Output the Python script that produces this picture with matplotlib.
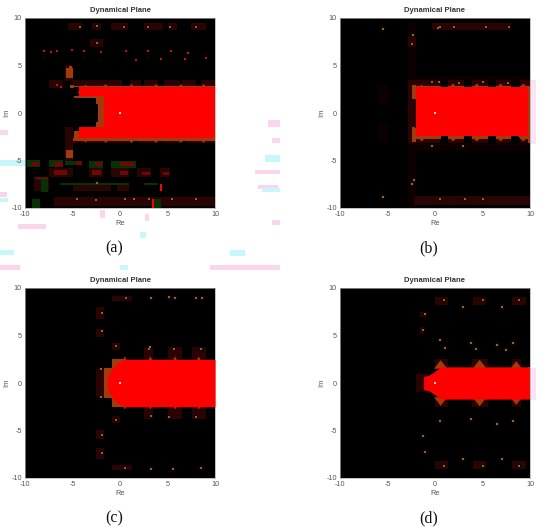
import matplotlib
matplotlib.use("Agg")
import matplotlib.pyplot as plt
from matplotlib.patches import Rectangle

plt.rcParams['font.family'] = ['Liberation Sans', 'DejaVu Sans']

RED = '#ff0000'
DARK = '#2a0402'
HALO = '#1c0302'
FAINT = '#0c0100'
BROWN = '#a33a0c'
GREEN = '#063206'
TAN = '#8a6a2c'

TICKS = [-10, -5, 0, 5, 10]
TICK_LABELS = ['-10', '-5', '0', '5', '10']
LETTERS = ['(a)', '(b)', '(c)', '(d)']

# regions are (re0, re1, im0, im1)
red_a = [(-4.3, 10, 1.75, 2.7), (-4.3, 10, -2.6, -1.5), (-1.7, 10, -1.6, 1.8)]
brown_a = [(-4.9, 10, 2.7, 2.85), (-4.9, 10, -2.95, -2.6), (-4.8, -1.7, 1.55, 1.8), (-2.3, -1.7, -1.5, 1.7), (-2.5, -1.7, 0.9, 1.7), (-2.5, -1.7, -1.5, -0.9),
           (-5.7, -5.0, 3.7, 4.7), (-5.4, -5.0, 4.7, 5.0), (-5.7, -4.9, -4.7, -3.9), (-5.3, -4.8, 2.6, 2.95), (-4.8, -4.3, -2.6, -1.9), (9.85, 10, -2.8, 2.7)]
dark_a = [(-5.0, 0.2, 2.85, 3.5), (1.0, 2.2, 2.85, 3.5), (2.5, 4.0, 2.85, 3.5), (4.6, 6.2, 2.85, 3.5), (6.5, 8.0, 2.85, 3.5), (8.5, 10, 2.85, 3.5),
          (-5.0, -1.0, -3.2, -2.7), (-1.0, 1.5, -3.2, -2.7), (2.0, 4.0, -3.2, -2.7), (4.5, 6.4, -3.2, -2.7), (7.0, 10, -3.2, -2.7),
          (-5.8, -5.0, 3.4, 5.1), (-5.8, -5.0, -5.0, -3.4), (-5.8, -5.0, -3.4, -1.5), (-3.2, -1.8, 6.9, 7.8), (-5.5, -4.0, 8.7, 9.5), (-3.0, -2.0, 8.7, 9.5),
          (-1.0, 0.8, 8.7, 9.5), (2.5, 4.5, 8.7, 9.5), (5.0, 6.0, 8.7, 9.5), (7.5, 9.0, 8.7, 9.5), (-7.5, -6.0, 2.6, 3.5),
          (-7.5, -5.0, -6.7, -5.8), (-3.3, -1.8, -6.7, -5.8), (-0.9, 0.9, -6.7, -5.8), (1.75, 3.3, -6.7, -5.8), (4.2, 5.3, -6.7, -5.8),
          (-9.1, -7.5, -8.2, -6.7), (-5.0, -1.0, -8.2, -7.5), (-0.3, 0.9, -8.2, -7.5), (-7.0, 10, -9.8, -8.8)]
green_a = [(-9.8, -8.4, -5.7, -5.0), (-7.5, -6.0, -5.7, -5.0), (-5.8, -4.0, -5.5, -5.0), (-3.3, -1.8, -5.8, -5.0), (-0.9, 1.7, -5.8, -5.0),
           (-8.6, -7.6, -7.1, -6.7), (-8.3, -7.6, -8.3, -7.1), (-6.3, 0.9, -7.55, -7.4), (2.5, 4.0, -7.55, -7.4), (3.6, 4.3, -10, -9.1), (-9.3, -8.4, -10, -9.1)]
blob_a = [(-9.3, -8.5, -5.6, -5.2), (-7.0, -6.0, -5.7, -5.2), (-4.6, -4.0, -5.5, -5.1), (-2.6, -1.9, -5.6, -5.2), (0.0, 1.5, -5.6, -5.2), (-7.0, -5.6, -6.5, -6.0),
          (-2.9, -2.0, -6.5, -6.0), (0.0, 0.8, -6.5, -6.1), (2.3, 3.2, -6.5, -6.2), (4.5, 5.2, -6.5, -6.2), (-9.0, -7.6, -6.9, -6.7)]
bar_a = [(4.2, 4.45, -8.2, -7.45), (3.4, 3.6, -10, -9.1)]
spec_re_a = [-4.2, -2.4, 0.4, 2.9, 5.3, 8.0, -2.4, 0.5, 3.0, 5.5, 8.0, -2.5, -4.5, 1.5, -2.4]
spec_im_a = [9.1, 9.2, 9.1, 9.1, 9.1, 9.1, 7.4, -9.1, -9.1, -9.1, -9.1, -9.2, -9.1, -9.1, -7.4]
spot_re_a = [-8.0, -7.3, -6.6, -5.1, -3.8, -2.0, 0.6, 2.9, 5.4, 7.2, 1.7, 4.3, 6.8, 9.1, -6.6, -6.2]
spot_im_a = [6.5, 6.4, 6.5, 6.6, 6.5, 6.4, 6.5, 6.5, 6.5, 6.3, 5.6, 5.7, 5.7, 5.8, 3.0, 2.7]
tooth_re_a = [-3.6, -1.5, 1.2, 3.8, 6.4, 8.8]
tooth_tip_a = [3.0, 3.05, 3.05, 3.05, 3.05, 3.05]
tooth_low_a = [-3.1, -3.15, -3.15, -3.15, -3.15, -3.15]

red_b = [(-2.0, 9.8, -2.45, 2.7)]
brown_b = [(-2.4, -2.0, -3.0, -1.5), (-2.4, -2.0, 1.5, 3.0), (-2.0, 10, 2.7, 2.85), (-2.0, 10, -2.7, -2.45), (9.8, 10, -3.2, 2.7)]
dark_b = [(-2.8, 0.5, 2.7, 3.5), (1.4, 3.0, 2.7, 3.5), (3.9, 5.6, 2.7, 3.5), (6.4, 8.0, 2.7, 3.5), (8.9, 10, 2.7, 3.5),
          (-2.8, 0.5, -3.2, -2.45), (1.4, 3.0, -3.2, -2.45), (3.9, 5.6, -3.2, -2.45), (6.4, 8.0, -3.2, -2.45), (8.9, 10, -3.2, -2.45),
          (-2.8, -2.0, -3.2, 3.5), (-2.8, -2.0, 7.0, 8.0), (-0.3, 8.0, 8.7, 9.5), (-2.2, 10, -9.7, -8.7)]
faint_b = [(-2.8, -2.0, 3.5, 9.5), (-2.8, -2.0, -10, -3.2), (-2.0, 10, -4.0, -3.2), (-2.0, 10, 3.5, 3.9), (-6.0, -5.0, 1.0, 3.0), (-6.0, -5.0, -3.0, -1.0)]
black_b = [(-2.0, -1.7, -0.6, 1.0), (-2.1, -1.4, -1.6, -0.8), (-2.1, -1.5, 0.8, 1.4), (0.6, 1.4, 2.7, 3.5), (3.0, 3.9, 2.5, 3.5), (5.6, 6.4, 2.5, 3.5), (8.0, 8.9, 2.5, 3.5),
           (0.6, 1.4, -3.2, -2.3), (3.0, 3.9, -3.2, -2.3), (5.6, 6.4, -3.2, -2.3), (8.0, 8.9, -3.2, -2.3)]
spec_re_b = [0.3, 0.5, 2.0, 5.4, 7.8, -2.4, -2.3, -5.5, -0.3, 0.4, 2.5, 5.0, 7.7, -2.4, -2.2, -5.5, 3.2, 0.5, -0.3, 2.9, 5.0]
spec_im_b = [9.0, 9.1, 9.1, 9.1, 9.1, 7.3, 8.2, 8.8, 3.3, 3.3, 3.2, 3.3, 3.2, -7.5, -7.0, -8.8, -9.0, -9.0, -3.5, -3.5, -9.1]
tooth_re_b = [-1.4, 1.9, 4.4, 6.9, 9.3]
tooth_tip_b = [3.0, 3.1, 3.1, 3.1, 3.1]
tooth_low_b = [-3.0, -3.0, -3.0, -3.0, -3.0]

# half height of the red body along Re, symmetric about Im = 0
body_re_c = [-1.35, -1.1, -0.7, -0.2, 0.4, 10]
body_h_c = [0.4, 1.1, 1.7, 2.15, 2.5, 2.5]
brown_c = [(-1.7, -0.8, -1.6, 1.6), (-0.85, 0.6, -2.5, 2.5)]
dark_c = [(-2.5, -1.7, 6.7, 8.0), (-2.5, -1.7, 4.8, 5.7), (-0.8, -0.0, 3.5, 4.2), (2.5, 3.5, 2.5, 3.8), (5.0, 6.5, 2.5, 3.8), (7.6, 9.0, 2.5, 3.8), (-0.8, 1.3, 8.6, 9.2),
          (-2.5, -1.7, -8.0, -6.8), (-2.5, -1.7, -5.9, -5.0), (-0.8, 0.0, -4.2, -3.5), (2.5, 3.5, -3.8, -2.5), (5.0, 6.5, -3.8, -2.5), (7.6, 9.0, -3.8, -2.5), (-0.8, 1.3, -9.2, -8.6),
          (-2.5, -1.7, -1.5, 1.5)]
spec_re_c = [-1.9, -1.9, -0.4, 0.6, 3.3, 5.2, 5.8, 8.0, 8.6, 3.1, 5.7, 8.5, 3.2, -1.9, -1.9, -0.4, 0.5, 3.3, 5.6, 8.5, 3.3, 5.2, 8.0, -2.0, -2.0]
spec_im_c = [7.4, 5.5, 3.9, 8.9, 9.0, 9.1, 8.9, 8.9, 9.0, 3.6, 3.6, 3.6, 3.8, -7.4, -5.5, -3.9, -8.9, -9.1, -9.0, -8.9, -3.5, -3.6, -3.6, 1.5, -1.5]
tooth_re_c = [0.5, 3.2, 5.8, 8.3]
tooth_tip_c = [2.8, 2.8, 2.8, 2.8]
tooth_low_c = [-2.8, -2.8, -2.8, -2.8]

body_re_d = [-1.2, -0.7, -0.2, 0.2, 0.6, 1.2, 9.9]
body_h_d = [0.7, 0.8, 1.1, 1.4, 1.7, 1.7, 1.7]
brown_d = [(9.8, 10, -1.7, 1.7)]
dark_d = [(-2.0, -1.0, -0.9, 0.9), (0.0, 1.4, 1.7, 2.5), (3.9, 5.6, 1.7, 2.5), (8.1, 9.0, 1.7, 2.5), (0.0, 1.4, -2.5, -1.7), (3.9, 5.6, -2.5, -1.7), (8.1, 9.0, -2.5, -1.7),
          (-1.6, -0.8, 7.0, 7.5), (-1.6, -1.2, 5.2, 5.9), (0.0, 1.4, 8.2, 9.1), (4.0, 5.4, 8.2, 9.1), (8.1, 9.6, 8.2, 9.1), (0.0, 1.4, -9.1, -8.2), (4.0, 5.4, -9.1, -8.2), (8.1, 9.6, -9.1, -8.2)]
spec_re_d = [-1.1, -1.3, 0.9, 2.9, 5.0, 7.0, 8.8, 0.5, 3.8, 6.5, 8.2, 0.5, 3.8, 6.5, 8.2, -1.1, -1.3, 0.9, 2.9, 5.0, 7.0, 8.8, 1.0, 4.3, 7.5]
spec_im_d = [7.3, 5.6, 8.7, 8.0, 8.7, 8.0, 8.7, 4.5, 4.2, 4.0, 4.2, -4.0, -3.8, -4.3, -4.0, -7.3, -5.6, -8.7, -8.0, -8.7, -8.0, -8.7, 3.7, 3.6, 3.5]
tooth_re_d = [0.6, 4.7, 8.55]
tooth_tip_d = [2.4, 2.45, 2.3]
tooth_low_d = [-2.4, -2.45, -2.3]

# compression blotches around panel (a), in figure pixels (x, y, w, h)
blotch_pink = [(0, 130, 8, 5), (268, 120, 12, 7), (272, 138, 8, 5), (255, 170, 25, 4), (258, 185, 20, 4), (0, 192, 7, 5), (18, 224, 28, 5),
               (210, 265, 70, 5), (0, 265, 20, 5), (100, 210, 5, 8), (145, 214, 4, 7), (272, 220, 8, 5)]
blotch_cyan = [(0, 160, 40, 6), (0, 198, 8, 4), (265, 155, 15, 7), (262, 188, 18, 4), (140, 232, 6, 6), (230, 250, 15, 6), (0, 250, 14, 5), (120, 265, 8, 5)]
strips = [(530, 80, 6, 64), (530, 368, 6, 32)]

panels = [
    (25, 18, dict(red=red_a, brown=brown_a, dark=dark_a, green=green_a, blob=blob_a, bar=bar_a, re=spec_re_a, im=spec_im_a,
                  spot_re=spot_re_a, spot_im=spot_im_a, t_re=tooth_re_a, t_tip=tooth_tip_a, t_low=tooth_low_a, t_w=0.9)),
    (340, 18, dict(red=red_b, brown=brown_b, dark=dark_b, faint=faint_b, black=black_b, re=spec_re_b, im=spec_im_b,
                   t_re=tooth_re_b, t_tip=tooth_tip_b, t_low=tooth_low_b, t_w=0.9)),
    (25, 288, dict(body_re=body_re_c, body_h=body_h_c, brown=brown_c, dark=dark_c, re=spec_re_c, im=spec_im_c,
                   t_re=tooth_re_c, t_tip=tooth_tip_c, t_low=tooth_low_c, t_w=0.45)),
    (340, 288, dict(body_re=body_re_d, body_h=body_h_d, brown=brown_d, dark=dark_d, re=spec_re_d, im=spec_im_d,
                    t_re=tooth_re_d, t_tip=tooth_tip_d, t_low=tooth_low_d, t_w=0.7)),
]

W, H = 550, 531
fig = plt.figure(figsize=(W / 100, H / 100), dpi=100)


def px_rect(x, y, w, h, color):
    fig.add_artist(Rectangle((x / W, 1 - (y + h) / H), w / W, h / H, transform=fig.transFigure,
                             facecolor=color, edgecolor='none', zorder=0))


for b in blotch_pink:
    px_rect(*b, '#fbd5ee')
for b in blotch_cyan:
    px_rect(*b, '#c8f7fb')
for b in strips:
    px_rect(*b, '#fbe3f6')


def fill(ax, regions, color, z):
    for r0, r1, i0, i1 in regions:
        ax.add_patch(Rectangle((r0, i0), r1 - r0, i1 - i0, facecolor=color, edgecolor='none', zorder=z))


for (left, top, d), letter in zip(panels, LETTERS):
    ax = fig.add_axes([left / W, 1 - (top + 190) / H, 190 / W, 190 / H], facecolor='black')
    fill(ax, d.get('faint', []), FAINT, 0.5)
    fill(ax, d['dark'], DARK, 1)
    fill(ax, d.get('green', []), GREEN, 1.5)
    fill(ax, d.get('blob', []), '#6a0a05', 1.6)
    fill(ax, d['brown'], BROWN, 2)
    fill(ax, d.get('red', []), RED, 3)
    if 'body_re' in d:
        neg = [-h for h in d['body_h']]
        ax.fill_between(d['body_re'], neg, d['body_h'], color=RED, linewidth=0, zorder=3)
    # scalloped brown teeth on both edges of the band
    for re, tip, low in zip(d['t_re'], d['t_tip'], d['t_low']):
        w = d['t_w']
        ax.fill([re - w, re, re + w], [tip - 0.9, tip, tip - 0.9], color=BROWN, linewidth=0, zorder=2.5)
        ax.fill([re - w, re, re + w], [low + 0.9, low, low + 0.9], color=BROWN, linewidth=0, zorder=2.5)
    fill(ax, d.get('black', []), 'black', 2.2)
    fill(ax, d.get('bar', []), RED, 4)
    ax.scatter(d['re'], d['im'], s=10, c=HALO, marker='s', linewidths=0, zorder=1.2)
    ax.scatter(d['re'], d['im'], s=2, c=TAN, marker='s', linewidths=0, zorder=5)
    ax.scatter(d.get('spot_re', []), d.get('spot_im', []), s=3, c='#d01008', marker='s', linewidths=0, zorder=5)
    ax.scatter([0], [0], s=3, c='#ffd0d0', marker='s', linewidths=0, zorder=6)
    ax.set_xlim(-10, 10)
    ax.set_ylim(-10, 10)
    ax.set_xticks(TICKS, TICK_LABELS)
    ax.set_yticks(TICKS, TICK_LABELS)
    ax.tick_params(length=0, labelsize=5.2, pad=2.2, colors='#555555')
    ax.set_xlabel('Re', fontsize=5.4, labelpad=1.2, color='#555555')
    ax.set_ylabel('Im', fontsize=5.4, labelpad=0.5, color='#555555')
    ax.set_title('Dynamical Plane', fontsize=5.5, fontweight='bold', pad=4, color='#333333')
    for s in ax.spines.values():
        s.set_color('#aaaaaa')
        s.set_linewidth(0.5)
    fig.text((left + 89) / W, 1 - (top + 230) / H, letter, fontsize=11.5, family='Liberation Serif',
             ha='center', va='center', color='#111111')

fig.savefig('out.png', dpi=100)
